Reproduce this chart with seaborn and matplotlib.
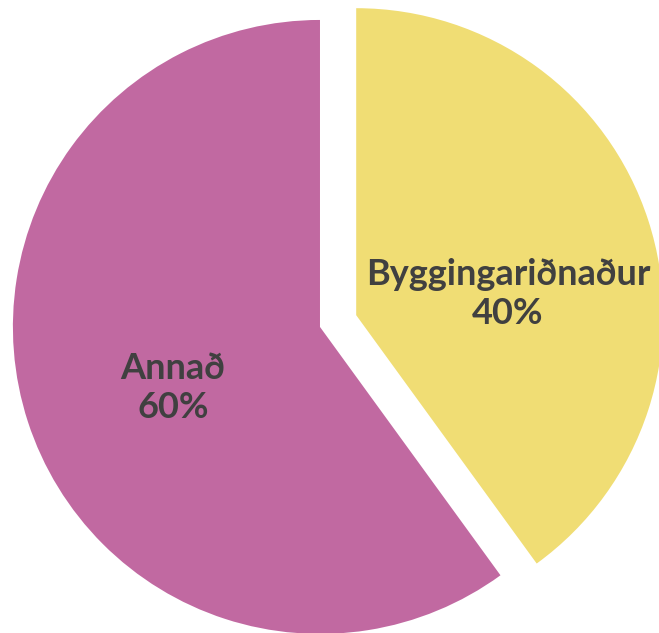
import matplotlib.pyplot as plt
import seaborn as sns

categories = ["Byggingariðnaður", "Annað"]
shares = [40, 60]
explode = [0.124, 0]
colors = ["#F0DD74", "#C169A1"]

sns.set_theme(style="white")
plt.rcParams["font.family"] = ["Lato", "DejaVu Sans"]

fig = plt.figure(figsize=(6.59, 6.33), dpi=100)
ax = fig.add_axes([0, 0, 1, 1])

wedges, _ = ax.pie(shares, colors=colors, explode=explode, startangle=90,
                   counterclock=False, radius=1,
                   wedgeprops=dict(linewidth=0))

# label positions (relative to pie centre)
label_pos = [(0.612, 0.107), (-0.479, -0.199)]
for name, val, (x, y) in zip(categories, shares, label_pos):
    ax.text(x, y, f"{name}\n{val}%", ha="center", va="center",
            fontsize=26, color="#404040", fontweight="bold",
            linespacing=1.22)

ax.set_xlim(-1.042, 1.104)
ax.set_ylim(-0.997, 1.065)
ax.set_aspect("auto")
ax.axis("off")

plt.savefig("out.png", dpi=100)
plt.close()
